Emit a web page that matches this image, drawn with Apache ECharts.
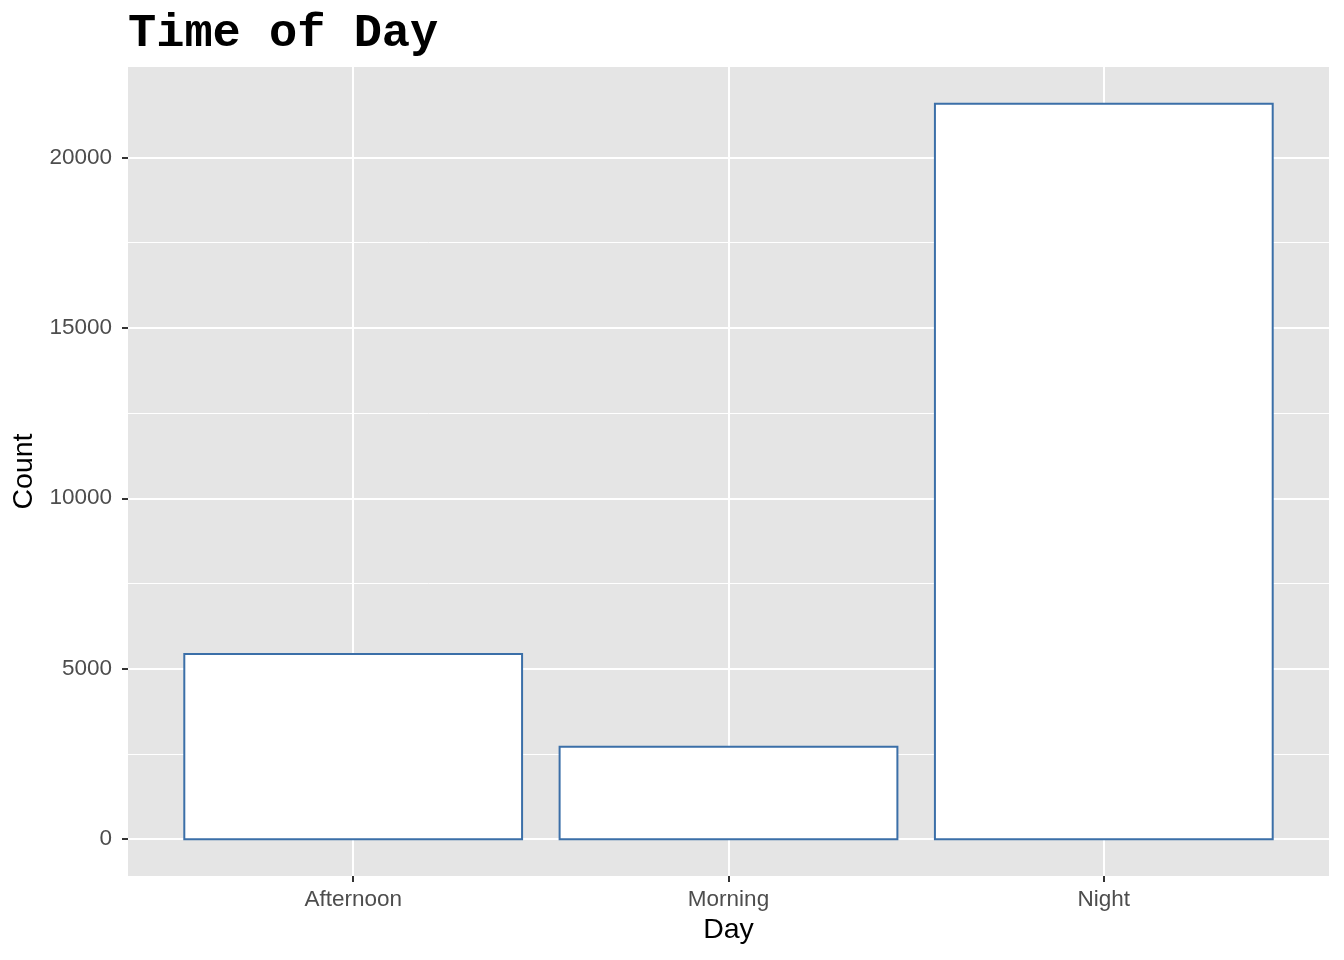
<!DOCTYPE html>
<html>
<head>
<meta charset="utf-8">
<script src="https://cdn.jsdelivr.net/npm/echarts@6/dist/echarts.min.js"></script>
<style>html,body{margin:0;padding:0;background:#fff}#c{width:1344px;height:960px}</style>
</head>
<body>
<div id="c"></div>
<script>
const categories = ['Afternoon', 'Morning', 'Night'];
const counts = [5430, 2715, 21570];
const yTicks = [0, 5000, 10000, 15000, 20000];
const yMinorTicks = [2500, 7500, 12500, 17500];

const dataMax = Math.max(...counts);
const yMin = -dataMax * 0.05;
const yMax = dataMax * 1.05;
const positions = categories.map((_, i) => i);

const chart = echarts.init(document.getElementById('c'), null, {renderer: 'canvas'});
const font = 'Liberation Sans, Arial, sans-serif';
chart.setOption({
  animation: false,
  backgroundColor: '#ffffff',
  title: {
    text: 'Time of Day',
    left: 128, top: 11, padding: 0,
    textStyle: {fontFamily: 'Liberation Mono, Courier New, monospace', fontWeight: 'bold', fontSize: 47, color: '#000'}
  },
  grid: {left: 128, right: 15, top: 67, bottom: 84, show: true, backgroundColor: '#E5E5E5', borderWidth: 0},
  xAxis: {
    type: 'value', min: -0.6, max: categories.length - 0.4,
    name: 'Day', nameLocation: 'middle', nameGap: 40,
    nameTextStyle: {fontFamily: font, fontSize: 28.5, color: '#000'},
    axisLine: {show: false, onZero: false},
    axisTick: {show: true, length: 6, lineStyle: {color: '#333', width: 2}, customValues: positions},
    axisLabel: {customValues: positions, formatter: v => categories[Math.round(v)], fontFamily: font, fontSize: 22.5, color: '#4D4D4D', margin: 12},
    splitLine: {show: true, lineStyle: {color: '#fff', width: 2}}
  },
  yAxis: [{
    type: 'value', min: yMin, max: yMax,
    name: 'Count', nameLocation: 'middle', nameGap: 87, nameRotate: 90,
    nameTextStyle: {fontFamily: font, fontSize: 28.5, color: '#000'},
    axisLine: {show: false, onZero: false},
    axisTick: {show: true, length: 6, lineStyle: {color: '#333', width: 2}, customValues: yTicks},
    axisLabel: {customValues: yTicks, formatter: v => String(v), fontFamily: font, fontSize: 22.5, color: '#4D4D4D', margin: 16},
    splitLine: {show: true, lineStyle: {color: '#fff', width: 2}},
    z: 1
  }, {
    type: 'value', min: yMin, max: yMax, position: 'left',
    axisLine: {show: false, onZero: false},
    axisTick: {show: false, customValues: yMinorTicks},
    axisLabel: {show: false, customValues: yMinorTicks},
    splitLine: {show: true, lineStyle: {color: '#fff', width: 1}},
    z: 0
  }],
  series: [{
    type: 'custom',
    xAxisIndex: 0, yAxisIndex: 0,
    data: counts.map((v, i) => [i, v]),
    renderItem: function (params, api) {
      const i = api.value(0), v = api.value(1);
      const p1 = api.coord([i - 0.45, v]);
      const p2 = api.coord([i + 0.45, 0]);
      return {
        type: 'rect',
        shape: {x: p1[0], y: p1[1], width: p2[0] - p1[0], height: p2[1] - p1[1]},
        style: {fill: '#ffffff', stroke: '#3B6FA8', lineWidth: 2}
      };
    },
    z: 5
  }]
});
</script>
</body>
</html>
